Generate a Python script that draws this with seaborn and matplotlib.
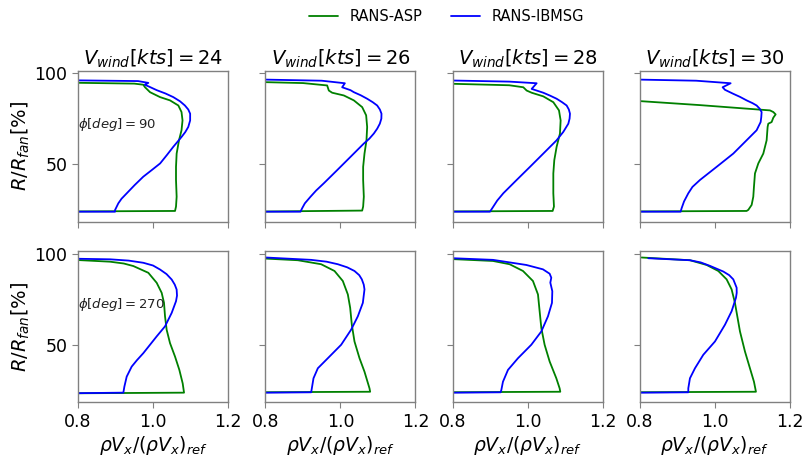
import numpy as np
import pandas as pd
import matplotlib
matplotlib.use("Agg")
import matplotlib.pyplot as plt
import seaborn as sns

# ---------------- data ----------------
wind_speeds = [24, 26, 28, 30]
phis = [90, 270]
series_names = ["RANS-ASP", "RANS-IBMSG"]
series_colors = ["green", "blue"]
x_ticks = [0.8, 1.0, 1.2]
y_ticks = [50, 100]

# phi = 90 deg
asp_90_24_x = [0.75, 0.95, 0.974, 0.9787, 0.992, 1.0187, 1.0453, 1.0675, 1.076, 1.0787, 1.076, 1.0693, 1.063, 1.0613, 1.0613, 1.063, 1.0613, 1.0587, 0.75]
asp_90_24_r = [94.8, 94.2, 93.6, 92.2, 89.5, 86.8, 85.0, 82.2, 78.6, 74.0, 68.6, 63.1, 55.8, 48.5, 41.3, 32.1, 26.7, 24.3, 24.0]
ibm_90_24_x = [0.75, 0.96, 0.9875, 0.978, 0.99, 1.010, 1.033, 1.054, 1.072, 1.085, 1.094, 1.099, 1.099, 1.094, 1.086, 1.076, 1.054, 1.037, 1.019, 0.997, 0.974, 0.951, 0.930, 0.916, 0.9075, 0.8987, 0.8987, 0.75]
ibm_90_24_r = [96.1, 95.6, 94.6, 93.6, 92.5, 90.6, 88.8, 86.8, 84.5, 82.2, 80.0, 77.7, 74.0, 70.4, 67.6, 64.9, 59.5, 55.0, 50.4, 46.8, 43.1, 38.5, 34.0, 31.0, 28.5, 24.8, 23.9, 23.9]

asp_90_26_x = [0.75, 0.8, 0.9, 0.9644, 0.9689, 0.9778, 1.0089, 1.0356, 1.0578, 1.0684, 1.0711, 1.0693, 1.064, 1.0604, 1.0604, 1.0622, 1.0604, 1.0578, 0.75]
asp_90_26_r = [95.2, 95.0, 94.5, 93.2, 90.4, 89.2, 87.7, 85.0, 81.3, 76.8, 70.4, 63.1, 55.8, 48.5, 41.3, 32.1, 26.7, 24.5, 23.9]
ibm_90_26_x = [0.75, 0.8, 0.95, 1.0116, 1.0044, 1.0267, 1.0356, 1.054, 1.0711, 1.086, 1.0978, 1.105, 1.1093, 1.109, 1.1049, 1.098, 1.0889, 1.077, 1.0622, 1.0267, 0.9911, 0.9556, 0.935, 0.92, 0.905, 0.8978, 0.8933, 0.75]
ibm_90_26_r = [96.6, 96.4, 95.8, 94.4, 92.2, 90.6, 89.5, 87.8, 85.9, 84.0, 82.2, 80.0, 77.7, 75.0, 72.2, 69.5, 66.8, 64.0, 61.3, 54.0, 46.7, 39.5, 35.5, 32.1, 28.5, 25.8, 23.9, 23.9]

asp_90_28_x = [0.75, 0.8, 0.95, 0.9876, 0.9965, 1.0098, 1.0409, 1.0676, 1.0827, 1.0871, 1.0853, 1.0764, 1.0702, 1.0676, 1.0676, 1.0693, 1.0658, 0.75]
asp_90_28_r = [94.2, 94.1, 93.3, 92.2, 90.4, 89.2, 87.2, 84.0, 79.5, 74.0, 66.8, 59.5, 52.2, 44.9, 34.0, 26.7, 24.3, 24.0]
ibm_90_28_x = [0.75, 0.8, 0.95, 1.0231, 1.0098, 1.0409, 1.059, 1.0764, 1.091, 1.1031, 1.109, 1.112, 1.111, 1.1076, 1.0942, 1.0764, 1.0409, 1.0053, 0.9698, 0.9342, 0.918, 0.9076, 0.8987, 0.75]
ibm_90_28_r = [96.0, 95.9, 95.3, 94.4, 91.3, 89.2, 87.6, 85.9, 84.0, 82.2, 80.0, 77.7, 75.0, 72.2, 67.7, 63.1, 55.8, 48.5, 41.3, 34.0, 30.0, 26.7, 23.9, 23.9]

asp_90_30_x = [0.75, 0.8, 0.96, 1.1467, 1.1556, 1.1618, 1.1556, 1.1511, 1.1422, 1.1404, 1.1378, 1.1289, 1.1156, 1.1067, 1.104, 1.1022, 1.0978, 1.0889, 1.0844, 0.75]
asp_90_30_r = [85.3, 84.6, 82.4, 79.5, 78.6, 77.3, 75.5, 73.1, 72.2, 70.4, 63.1, 55.8, 50.4, 44.9, 37.6, 32.1, 27.6, 24.9, 24.3, 24.0]
ibm_90_30_x = [0.75, 0.8, 0.95, 1.0418, 1.0204, 1.0267, 1.0489, 1.067, 1.0844, 1.1, 1.1111, 1.119, 1.1244, 1.1235, 1.1218, 1.1111, 1.0844, 1.0489, 1.0044, 0.96, 0.94, 0.9289, 0.9175, 0.9111, 0.9084, 0.75]
ibm_90_30_r = [96.5, 96.4, 95.8, 94.4, 92.2, 90.8, 88.6, 86.9, 85.0, 83.5, 82.2, 80.5, 78.6, 75.8, 73.1, 68.6, 63.1, 55.8, 48.5, 41.3, 37.5, 34.0, 29.5, 25.8, 23.9, 23.9]

# phi = 270 deg
asp_270_24_x = [0.75, 0.8, 0.8853, 0.922, 0.9476, 0.9875, 1.0098, 1.0231, 1.0293, 1.032, 1.0364, 1.0453, 1.0587, 1.0702, 1.0791, 1.0827, 0.75]
asp_270_24_r = [96.6, 96.5, 95.6, 94.6, 93.2, 89.5, 84.0, 78.5, 73.0, 65.6, 58.2, 50.9, 43.5, 36.2, 28.8, 23.7, 23.3]
ibm_270_24_x = [0.75, 0.8, 0.8853, 0.935, 0.9742, 1.0, 1.0187, 1.036, 1.0498, 1.058, 1.063, 1.064, 1.0613, 1.0498, 1.032, 1.0098, 0.992, 0.9742, 0.957, 0.9431, 0.9298, 0.9236, 0.9209, 0.75]
ibm_270_24_r = [97.3, 97.2, 96.9, 96.2, 95.0, 93.5, 91.3, 88.8, 85.8, 83.0, 80.3, 77.0, 73.9, 67.5, 60.1, 54.6, 50.0, 45.4, 41.5, 38.0, 32.5, 27.0, 23.7, 23.3]

asp_270_26_x = [0.75, 0.8, 0.8862, 0.9484, 0.984, 1.0062, 1.0196, 1.0258, 1.0302, 1.0373, 1.0507, 1.064, 1.0773, 1.0791, 0.75]
asp_270_26_r = [97.4, 97.3, 96.4, 94.2, 90.5, 85.0, 77.6, 70.3, 61.0, 51.8, 42.6, 35.2, 26.1, 24.2, 23.9]
ibm_270_26_x = [0.75, 0.8, 0.9218, 0.963, 0.9929, 1.018, 1.0373, 1.05, 1.0569, 1.062, 1.064, 1.0596, 1.0462, 1.0284, 1.0018, 0.9662, 0.9396, 0.928, 0.9236, 0.9218, 0.75]
ibm_270_26_r = [97.9, 97.9, 96.6, 95.6, 94.2, 92.5, 90.5, 88.2, 85.9, 83.0, 80.4, 73.0, 65.6, 58.3, 50.0, 42.6, 37.1, 31.6, 26.1, 23.9, 23.6]

asp_270_28_x = [0.75, 0.8, 0.9067, 0.9511, 0.9867, 1.0133, 1.0267, 1.0311, 1.0356, 1.0444, 1.0578, 1.0756, 1.0844, 1.0862, 0.75]
asp_270_28_r = [97.1, 97.0, 96.0, 94.2, 90.5, 85.0, 77.6, 68.4, 59.2, 50.0, 40.8, 31.6, 26.1, 24.2, 23.9]
ibm_270_28_x = [0.75, 0.8, 0.9067, 0.9956, 1.04, 1.0578, 1.0622, 1.0596, 1.0649, 1.064, 1.0533, 1.0356, 1.0089, 0.9733, 0.9467, 0.9333, 0.9289, 0.9271, 0.75]
ibm_270_28_r = [97.6, 97.5, 96.6, 93.8, 91.4, 89.0, 86.8, 84.1, 79.4, 73.0, 65.6, 57.3, 50.0, 42.6, 36.2, 29.7, 25.1, 23.9, 23.6]

asp_270_30_x = [0.8044, 0.9333, 0.9778, 1.0089, 1.0311, 1.0444, 1.0533, 1.0596, 1.0667, 1.08, 1.0933, 1.104, 1.1093, 0.75]
asp_270_30_r = [97.9, 96.4, 93.8, 90.5, 85.9, 80.4, 73.0, 65.6, 57.3, 46.3, 37.1, 29.7, 24.2, 23.9]
ibm_270_30_x = [0.8222, 0.9333, 0.962, 0.9867, 1.0222, 1.038, 1.0489, 1.0578, 1.058, 1.056, 1.0444, 1.0267, 1.0, 0.9689, 0.9467, 0.9333, 0.9289, 0.9289, 0.75]
ibm_270_30_r = [97.5, 96.4, 95.2, 93.3, 90.2, 88.2, 85.9, 81.3, 78.5, 75.8, 68.4, 61.0, 51.8, 44.5, 37.1, 31.6, 26.1, 23.9, 23.6]

asp_x = {90: [asp_90_24_x, asp_90_26_x, asp_90_28_x, asp_90_30_x],
         270: [asp_270_24_x, asp_270_26_x, asp_270_28_x, asp_270_30_x]}
asp_r = {90: [asp_90_24_r, asp_90_26_r, asp_90_28_r, asp_90_30_r],
         270: [asp_270_24_r, asp_270_26_r, asp_270_28_r, asp_270_30_r]}
ibm_x = {90: [ibm_90_24_x, ibm_90_26_x, ibm_90_28_x, ibm_90_30_x],
         270: [ibm_270_24_x, ibm_270_26_x, ibm_270_28_x, ibm_270_30_x]}
ibm_r = {90: [ibm_90_24_r, ibm_90_26_r, ibm_90_28_r, ibm_90_30_r],
         270: [ibm_270_24_r, ibm_270_26_r, ibm_270_28_r, ibm_270_30_r]}

# ---------------- style ----------------
sns.set_style("white")
plt.rcParams.update({
    "font.family": ["DejaVu Sans"],
    "mathtext.fontset": "dejavusans",
    "axes.edgecolor": "#808080",
    "axes.linewidth": 1.0,
    "xtick.color": "#808080",
    "ytick.color": "#808080",
    "xtick.labelcolor": "black",
    "ytick.labelcolor": "black",
    "xtick.bottom": True,
    "ytick.left": True,
    "xtick.major.size": 4,
    "ytick.major.size": 4,
    "text.color": "black",
    "axes.labelcolor": "black",
})

fig = plt.figure(figsize=(8.06, 4.59), dpi=100)
lefts = [0.0968, 0.3294, 0.5620, 0.7940]
bottoms = {90: 0.517, 270: 0.1235}
w, h = 0.1861, 0.329

handles = None
for phi in phis:
    for j, ws in enumerate(wind_speeds):
        ax = fig.add_axes([lefts[j], bottoms[phi], w, h])
        frames = []
        for name, xs, rs in ((series_names[0], asp_x[phi][j], asp_r[phi][j]),
                             (series_names[1], ibm_x[phi][j], ibm_r[phi][j])):
            frames.append(pd.DataFrame({"x": xs, "r": rs, "model": name}))
        df = pd.concat(frames, ignore_index=True)
        sns.lineplot(data=df, x="x", y="r", hue="model", units="model",
                     estimator=None, sort=False, palette=series_colors,
                     hue_order=series_names, linewidth=1.3, ax=ax, legend=True)
        if handles is None:
            handles = ax.get_legend_handles_labels()
        ax.get_legend().remove()
        ax.set_xlim(0.8, 1.2)
        ax.set_ylim(18.4, 101.3)
        ax.set_xticks(x_ticks)
        ax.set_yticks(y_ticks)
        ax.tick_params(labelsize=12.5)
        ax.set_xlabel("")
        ax.set_ylabel("")
        if phi == 90:
            ax.set_title(r"$V_{wind}[kts] = %d$" % ws, fontsize=14, pad=4)
            ax.set_xticklabels([])
        else:
            ax.set_xticklabels(["0.8", "1.0", "1.2"])
            ax.set_xlabel(r"$\rho V_x/(\rho V_x)_{ref}$", fontsize=13.5, labelpad=2)
        if j == 0:
            ax.set_yticklabels(["50", "100"])
            ax.set_ylabel(r"$R/R_{fan}[\%]$", fontsize=14, labelpad=2)
            ax.text(0.8, 72, r"$\phi[deg] = %d$" % phi, fontsize=9.5,
                    ha="left", va="center", color="#222222")
        else:
            ax.set_yticklabels([])

h_, l_ = handles
fig.legend(h_, l_, loc="center", bbox_to_anchor=(0.554, 0.963), ncol=2,
           frameon=False, fontsize=10.5, handlelength=2.0, handletextpad=0.8,
           columnspacing=1.9)

fig.savefig("out.png", dpi=100)
